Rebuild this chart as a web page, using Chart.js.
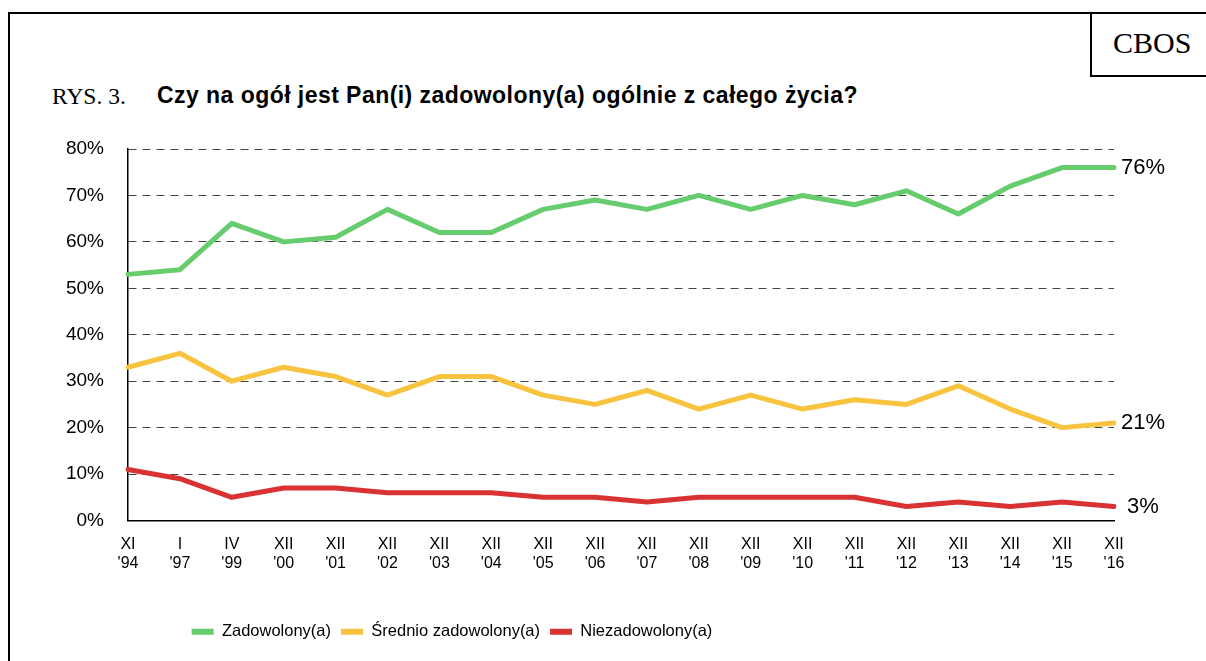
<!DOCTYPE html>
<html>
<head>
<meta charset="utf-8">
<script src="https://cdn.jsdelivr.net/npm/chart.js@4"></script>
<style>
  body { margin: 0; width: 1206px; height: 661px; overflow: hidden; background: #fff; position: relative; }
  .frame { position: absolute; left: 8px; top: 12px; width: 1300px; height: 800px; border-left: 2px solid #000; border-top: 2px solid #000; }
  .cbos { position: absolute; left: 1090px; top: 12px; width: 200px; height: 63px; border-left: 2px solid #000; border-bottom: 2px solid #000; }
  .cbos span { position: absolute; left: 21px; top: 14px; font: 30px "Liberation Serif", serif; color: #000; }
  .rys { position: absolute; left: 52px; top: 83px; font: 23.5px "Liberation Serif", serif; color: #000; }
  .title { position: absolute; left: 157px; top: 82px; font: bold 23px "Liberation Sans", Arial, sans-serif; letter-spacing: 0.45px; color: #000; }
  #wrap { position: absolute; left: 0; top: 0; width: 1206px; height: 661px; }
</style>
</head>
<body>
<div class="frame"></div>
<div class="cbos"><span>CBOS</span></div>
<div class="rys">RYS. 3.</div>
<div class="title">Czy na ogół jest Pan(i) zadowolony(a) ogólnie z całego życia?</div>
<div id="wrap"><canvas id="chart"></canvas></div>
<script>
// survey waves
const months = ['XI', 'I', 'IV', 'XII', 'XII', 'XII', 'XII', 'XII', 'XII', 'XII', 'XII', 'XII', 'XII', 'XII', 'XII', 'XII', 'XII', 'XII', 'XII', 'XII'];
const years = ["'94", "'97", "'99", "'00", "'01", "'02", "'03", "'04", "'05", "'06", "'07", "'08", "'09", "'10", "'11", "'12", "'13", "'14", "'15", "'16"];

// answers in %
const zadowolony = [53, 54, 64, 60, 61, 67, 62, 62, 67, 69, 67, 70, 67, 70, 68, 71, 66, 72, 76, 76];
const srednio = [33, 36, 30, 33, 31, 27, 31, 31, 27, 25, 28, 24, 27, 24, 26, 25, 29, 24, 20, 21];
const niezadowolony = [11, 9, 5, 7, 7, 6, 6, 6, 5, 5, 4, 5, 5, 5, 5, 3, 4, 3, 4, 3];

const seriesNames = ['Zadowolony(a)', 'Średnio zadowolony(a)', 'Niezadowolony(a)'];
const seriesColors = ['#66cc6e', '#f8c440', '#d93232'];

const labels = months.map((m, i) => [m, years[i]]);

// last value printed to the right of each line
const endLabels = {
    id: 'endLabels',
    afterDatasetsDraw(chart) {
        const ctx = chart.ctx;
        ctx.save();
        ctx.font = '22px "Liberation Sans", Arial, sans-serif';
        ctx.fillStyle = '#000';
        ctx.textAlign = 'center';
        ctx.textBaseline = 'middle';
        chart.data.datasets.forEach((ds, i) => {
            const pts = chart.getDatasetMeta(i).data;
            const last = pts[pts.length - 1];
            ctx.fillText(ds.data[ds.data.length - 1] + '%', last.x + 29, last.y);
        });
        ctx.restore();
    }
};

// legend in the original sits left of the plot centre
const legendShift = {
    id: 'legendShift',
    afterLayout(chart) {
        chart.legend.left = -48;
        chart.legend.right = 952;
    }
};

const datasets = [zadowolony, srednio, niezadowolony].map((vals, i) => ({
    label: seriesNames[i],
    data: vals,
    borderColor: seriesColors[i],
    backgroundColor: seriesColors[i],
    borderWidth: 5,
    pointRadius: 0,
    tension: 0,
    borderCapStyle: 'round',
    borderJoinStyle: 'round'
}));

new Chart(document.getElementById('chart'), {
    type: 'line',
    data: { labels, datasets },
    plugins: [endLabels, legendShift],
    options: {
        responsive: true,
        maintainAspectRatio: false,
        animation: false,
        layout: { padding: { left: 0, right: 92, top: 149, bottom: 11 } },
        plugins: {
            tooltip: { enabled: false },
            legend: {
                position: 'bottom',
                labels: {
                    color: '#000',
                    font: { family: '"Liberation Sans", Arial, sans-serif', size: 16.5 },
                    boxWidth: 22,
                    boxHeight: 6,
                    useBorderRadius: true,
                    borderRadius: 3,
                    padding: 10,
                    generateLabels(chart) {
                        return chart.data.datasets.map((ds, i) => ({
                            text: ds.label,
                            fillStyle: ds.borderColor,
                            strokeStyle: ds.borderColor,
                            lineWidth: 0,
                            fontColor: '#000',
                            datasetIndex: i
                        }));
                    }
                }
            }
        },
        scales: {
            x: {
                offset: false,
                grid: { display: false, drawTicks: false },
                border: { display: true, color: '#000', width: 1.5 },
                ticks: {
                    color: '#000',
                    font: { family: '"Liberation Sans", Arial, sans-serif', size: 16, lineHeight: 1.15 },
                    maxRotation: 0,
                    autoSkip: false,
                    padding: 15
                },
                afterFit(scale) { scale.height = 93; }
            },
            y: {
                min: 0,
                max: 80,
                grid: { color: '#444', lineWidth: 1, drawTicks: false },
                border: { display: true, color: '#000', width: 1.5, dash: [8, 6] },
                ticks: {
                    stepSize: 10,
                    color: '#000',
                    padding: 24,
                    font: { family: '"Liberation Sans", Arial, sans-serif', size: 19 },
                    callback: v => v + '%'
                },
                afterFit(scale) { scale.width = 128; }
            }
        }
    }
});
</script>
</body>
</html>
